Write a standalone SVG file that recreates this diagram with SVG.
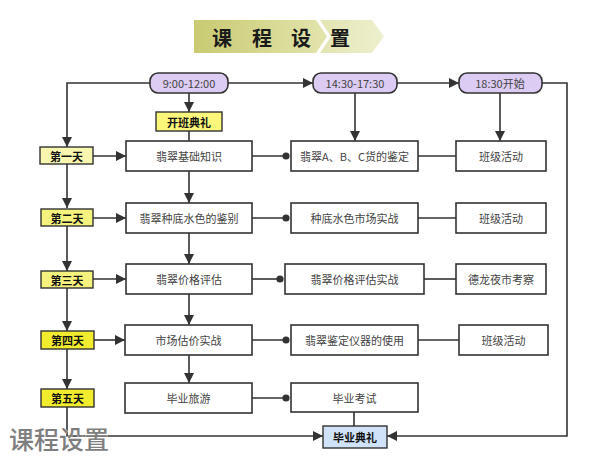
<svg xmlns="http://www.w3.org/2000/svg" width="600" height="461" viewBox="0 0 600 461">
<defs>
<linearGradient id="tg" x1="0" y1="0" x2="1" y2="0">
<stop offset="0" stop-color="#c9ca72"/>
<stop offset="1" stop-color="#e2e4ad"/>
</linearGradient>
<linearGradient id="tg2" x1="0" y1="0" x2="1" y2="0">
<stop offset="0" stop-color="#e2e4b0"/>
<stop offset="1" stop-color="#eef0cf"/>
</linearGradient>
<marker id="arr" viewBox="0 0 10 10" refX="10" refY="5" markerWidth="10" markerHeight="10" markerUnits="userSpaceOnUse" orient="auto">
<path d="M0,0 L10,5 L0,10 z" fill="#333"/>
</marker>
<marker id="dot" viewBox="0 0 8 8" refX="4" refY="4" markerWidth="8" markerHeight="8" markerUnits="userSpaceOnUse">
<circle cx="4" cy="4" r="3.6" fill="#333"/>
</marker>
<style>
.t{font-family:"Noto Sans CJK SC","Liberation Sans",sans-serif;font-size:11px;fill:#444;text-anchor:middle;dominant-baseline:central}
.b{font-weight:bold;fill:#111}
.box{fill:#fff;stroke:#333;stroke-width:1.6}
.pill{fill:#dccbf2;stroke:#333;stroke-width:1.6}
.day{stroke:#333;stroke-width:1.4}
.ln{fill:none;stroke:#333;stroke-width:1.6}
.a{marker-end:url(#arr)}
.d{marker-end:url(#dot)}
</style>
</defs>
<g id="title">
<polygon points="194,20 316,20 327,36.5 316,53 194,53" fill="url(#tg)"/>
<polygon points="320,20 372,20 384,36.5 372,53 320,53 331,36.5" fill="url(#tg2)"/>
<text x="222" y="37" class="t b" style="font-size:20px;fill:#1a1a1a">课</text>
<text x="262" y="37" class="t b" style="font-size:20px;fill:#1a1a1a">程</text>
<text x="301" y="37" class="t b" style="font-size:20px;fill:#1a1a1a">设</text>
<text x="340" y="37" class="t b" style="font-size:20px;fill:#1a1a1a">置</text>
</g>
<g id="connectors">
<path class="ln a" d="M150,83 H67 V147"/>
<path class="ln a" d="M228,83 H313"/>
<path class="ln a" d="M397,83 H459"/>
<path class="ln" d="M542,83 H567 V436 H447"/>
<path class="ln a" d="M447,436 H387"/>
<path class="ln a" d="M189,93 V112"/>
<path class="ln" d="M189,131 V141"/>
<path class="ln a" d="M355,93 V141"/>
<path class="ln a" d="M500,93 V141"/>
<path class="ln a" d="M67,164 V208"/>
<path class="ln a" d="M67,226 V271"/>
<path class="ln a" d="M67,288 V331"/>
<path class="ln a" d="M67,349 V389"/>
<path class="ln a" d="M67,407 V436 H323"/>
<path class="ln a" d="M93,156 H126"/>
<path class="ln a" d="M93,218 H126"/>
<path class="ln a" d="M93,279 H126"/>
<path class="ln a" d="M94,340 H125"/>
<path class="ln a" d="M189,171 V203"/>
<path class="ln a" d="M189,233 V264"/>
<path class="ln a" d="M189,294 V325"/>
<path class="ln a" d="M189,355 V383"/>
<path class="ln d" d="M252,156 H286"/>
<path class="ln d" d="M252,218 H286"/>
<path class="ln d" d="M252,279 H280"/>
<path class="ln d" d="M252,340 H286"/>
<path class="ln d" d="M252,398 H286"/>
<path class="ln" d="M418,156 H456"/>
<path class="ln" d="M418,218 H456"/>
<path class="ln" d="M424,279 H456"/>
<path class="ln" d="M418,340 H459"/>
<path class="ln" d="M354,412 V426"/>
</g>
<g id="p1"><rect class="pill" x="150" y="73" width="78" height="20" rx="8"/><text class="t" x="189" y="83">9:00-12:00</text></g>
<g id="p2"><rect class="pill" x="313" y="73" width="84" height="20" rx="8"/><text class="t" x="355" y="83">14:30-17:30</text></g>
<g id="p3"><rect class="pill" x="459" y="73" width="83" height="20" rx="8"/><text class="t" x="500" y="83">18:30开始</text></g>
<g id="kaiban"><rect class="day" x="156" y="112" width="66" height="19" fill="#fbf77a"/><text class="t b" x="189" y="121.5">开班典礼</text></g>
<g id="d1"><rect class="day" x="40" y="147" width="53" height="17" fill="#f9f6b0"/><text class="t b" x="66.5" y="155.5">第一天</text></g>
<g id="d2"><rect class="day" x="41" y="209" width="52" height="17" fill="#f5f27e"/><text class="t b" x="67" y="217.5">第二天</text></g>
<g id="d3"><rect class="day" x="41" y="271" width="52" height="17" fill="#f5f27e"/><text class="t b" x="67" y="279.5">第三天</text></g>
<g id="d4"><rect class="day" x="41" y="331" width="53" height="18" fill="#f2ec2e"/><text class="t b" x="67.5" y="340">第四天</text></g>
<g id="d5"><rect class="day" x="41" y="389" width="53" height="18" fill="#f2ec2e"/><text class="t b" x="67.5" y="398">第五天</text></g>
<g id="c1r1"><rect class="box" x="126" y="141" width="126" height="30"/><text class="t" x="189" y="156">翡翠基础知识</text></g>
<g id="c1r2"><rect class="box" x="126" y="203" width="126" height="30"/><text class="t" x="189" y="218">翡翠种底水色的鉴别</text></g>
<g id="c1r3"><rect class="box" x="126" y="264" width="126" height="30"/><text class="t" x="189" y="279">翡翠价格评估</text></g>
<g id="c1r4"><rect class="box" x="125" y="325" width="127" height="30"/><text class="t" x="188.5" y="340">市场估价实战</text></g>
<g id="c1r5"><rect class="box" x="125" y="383" width="127" height="30"/><text class="t" x="188.5" y="398">毕业旅游</text></g>
<g id="c2r1"><rect class="box" x="291" y="141" width="127" height="30"/><text class="t" x="354.5" y="156">翡翠A、B、C货的鉴定</text></g>
<g id="c2r2"><rect class="box" x="291" y="203" width="127" height="30"/><text class="t" x="354.5" y="218">种底水色市场实战</text></g>
<g id="c2r3"><rect class="box" x="285" y="264" width="139" height="30"/><text class="t" x="354.5" y="279">翡翠价格评估实战</text></g>
<g id="c2r4"><rect class="box" x="291" y="325" width="127" height="30"/><text class="t" x="354.5" y="340">翡翠鉴定仪器的使用</text></g>
<g id="c2r5"><rect class="box" x="291" y="383" width="127" height="29"/><text class="t" x="354.5" y="397.5">毕业考试</text></g>
<g id="c3r1"><rect class="box" x="456" y="141" width="90" height="30"/><text class="t" x="501" y="156">班级活动</text></g>
<g id="c3r2"><rect class="box" x="456" y="203" width="90" height="30"/><text class="t" x="501" y="218">班级活动</text></g>
<g id="c3r3"><rect class="box" x="456" y="264" width="90" height="30"/><text class="t" x="501" y="279">德龙夜市考察</text></g>
<g id="c3r4"><rect class="box" x="459" y="325" width="89" height="30"/><text class="t" x="503.5" y="340">班级活动</text></g>
<g id="biye"><rect class="day" x="323" y="426" width="64" height="22" fill="#cfe2f8"/><text class="t b" x="355" y="437">毕业典礼</text></g>
<g id="watermark"><text x="9" y="449" style="font-family:'Noto Sans CJK SC',sans-serif;font-size:25px;font-weight:500;fill:#7e7e7e;stroke:#fff;stroke-width:0.6;paint-order:stroke">课程设置</text></g>
</svg>
